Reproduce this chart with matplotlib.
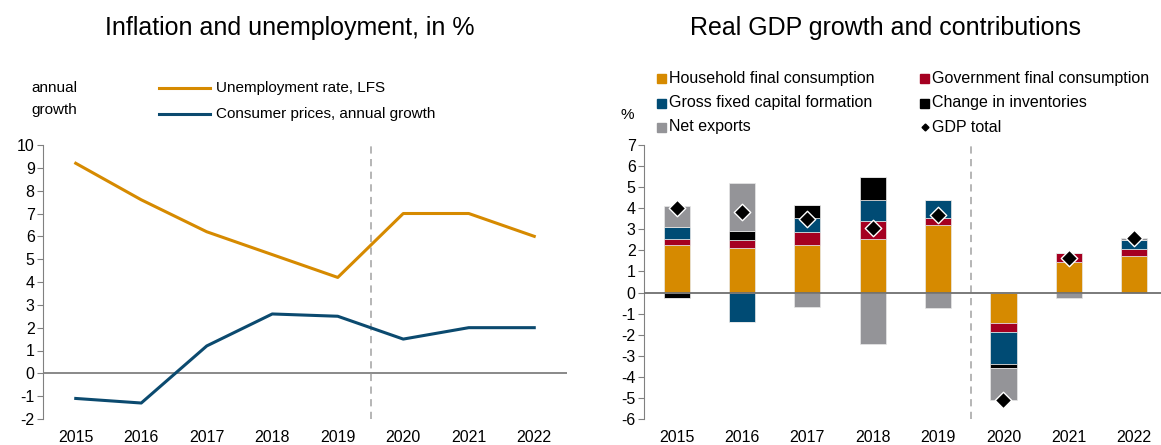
import matplotlib
matplotlib.use("Agg")
import matplotlib.pyplot as plt
import numpy as np
from matplotlib.lines import Line2D
from matplotlib.patches import Rectangle

plt.rcParams['font.family'] = ['Liberation Sans', 'DejaVu Sans']
plt.rcParams['axes.unicode_minus'] = False

years = ['2015', '2016', '2017', '2018', '2019', '2020', '2021', '2022']

# Left chart
unemployment = [9.2, 7.6, 6.2, 5.2, 4.2, 7.0, 7.0, 6.0]
cpi = [-1.1, -1.3, 1.2, 2.6, 2.5, 1.5, 2.0, 2.0]

# Right chart: contributions
household = [2.26, 2.12, 2.26, 2.56, 3.21, -1.45, 1.45, 1.75]
government = [0.27, 0.35, 0.63, 0.85, 0.33, -0.41, 0.41, 0.33]
gfcf = [0.57, -1.41, 0.63, 0.98, 0.85, -1.55, 0.0, 0.39]
inventories = [-0.28, 0.43, 0.62, 1.09, 0.0, -0.16, 0.0, 0.04]
net_exports = [1.02, 2.29, -0.70, -2.45, -0.74, -1.55, -0.24, 0.06]
gdp_total = [4.0, 3.81, 3.49, 3.08, 3.68, -5.12, 1.66, 2.57]

c_orange = '#D68A00'
c_red = '#A50021'
c_blue = '#004B74'
c_black = '#000000'
c_gray = '#949498'
c_line_blue = '#0B4A6F'

W, H = 1161, 445
fig = plt.figure(figsize=(W / 100, H / 100), dpi=100)

def fx(px):
    return px / W

def fy(py):
    return 1 - py / H

# ---------- Left chart ----------
axL = fig.add_axes([fx(43), fy(419), fx(567 - 43), fy(145) - fy(419)])
x = np.arange(len(years))
axL.axhline(0, color='#808080', lw=1.3, zorder=1)
axL.axvline(4.5, color='#B0B0B0', lw=1.3, ls=(0, (4, 3)), zorder=1)
axL.plot(x, unemployment, color=c_orange, lw=2.2, zorder=3)
axL.plot(x, cpi, color=c_line_blue, lw=2.2, zorder=3)
axL.set_xlim(-0.5, 7.5)
axL.set_ylim(-2, 10)
axL.set_yticks(range(-2, 11))
axL.set_xticks(x)
axL.set_xticklabels(years)
for s in ['top', 'right', 'bottom']:
    axL.spines[s].set_visible(False)
axL.spines['left'].set_color('#808080')
axL.tick_params(axis='y', direction='out', length=4, color='#808080', labelsize=11.5, pad=2)
axL.tick_params(axis='x', length=0, labelsize=11.5, pad=8)

fig.text(fx(290), fy(28), 'Inflation and unemployment, in %', ha='center', va='center', fontsize=18)
fig.text(fx(31), fy(88), 'annual', ha='left', va='center', fontsize=11)
fig.text(fx(31), fy(110), 'growth', ha='left', va='center', fontsize=11)
fig.add_artist(Line2D([fx(159), fx(210)], [fy(88), fy(88)], color=c_orange, lw=2.2))
fig.add_artist(Line2D([fx(159), fx(210)], [fy(114), fy(114)], color=c_line_blue, lw=2.2))
fig.text(fx(216), fy(88), 'Unemployment rate, LFS', ha='left', va='center', fontsize=11)
fig.text(fx(216), fy(114), 'Consumer prices, annual growth', ha='left', va='center', fontsize=11)

# ---------- Right chart ----------
axR = fig.add_axes([fx(644), fy(419), fx(1161 - 644), fy(145) - fy(419)])
series = [household, government, gfcf, inventories, net_exports]
colors = [c_orange, c_red, c_blue, c_black, c_gray]
pos_base = np.zeros(len(years))
neg_base = np.zeros(len(years))
bw = 0.4
for vals, col in zip(series, colors):
    v = np.array(vals)
    pos = np.where(v > 0, v, 0)
    neg = np.where(v < 0, v, 0)
    axR.bar(x, pos, bw, bottom=pos_base, color=col, edgecolor='#E8E8E8', lw=0.5, zorder=2)
    axR.bar(x, neg, bw, bottom=neg_base, color=col, edgecolor='#E8E8E8', lw=0.5, zorder=2)
    pos_base += pos
    neg_base += neg
axR.axhline(0, color='#707070', lw=1.3, zorder=3)
axR.axvline(4.5, color='#B0B0B0', lw=1.3, ls=(0, (4, 3)), zorder=1)
axR.scatter(x, gdp_total, marker='D', s=70, color='black', edgecolor='white', linewidth=1.0, zorder=4)
axR.set_xlim(-0.5, 7.41)
axR.set_ylim(-6, 7)
axR.set_yticks(range(-6, 8))
axR.set_xticks(x)
axR.set_xticklabels(years)
for s in ['top', 'right', 'bottom']:
    axR.spines[s].set_visible(False)
axR.spines['left'].set_color('#808080')
axR.tick_params(axis='y', direction='out', length=4, color='#808080', labelsize=11.5, pad=2)
axR.tick_params(axis='x', length=0, labelsize=11.5, pad=8)

fig.text(fx(885), fy(28), 'Real GDP growth and contributions', ha='center', va='center', fontsize=18)
fig.text(fx(627), fy(115), '%', ha='center', va='center', fontsize=11)

leg_items = [
    (661.5, 78, c_orange, 'Household final consumption', 's'),
    (924.5, 78, c_red, 'Government final consumption', 's'),
    (661.5, 103, c_blue, 'Gross fixed capital formation', 's'),
    (924.5, 103, c_black, 'Change in inventories', 's'),
    (661.5, 127, c_gray, 'Net exports', 's'),
    (925, 127, 'black', 'GDP total', 'd'),
]
for px, py, col, lab, kind in leg_items:
    if kind == 's':
        sz = 9
        fig.add_artist(Rectangle((fx(px - sz / 2), fy(py + sz / 2)), fx(sz), fy(0) - fy(sz),
                                 color=col, transform=fig.transFigure))
    else:
        fig.add_artist(Line2D([fx(px)], [fy(py)], marker='D', markersize=3.5, color=col, lw=0))
    fig.text(fx(px + 7.5), fy(py), lab, ha='left', va='center', fontsize=11.5)

fig.savefig('out.png', dpi=100)
